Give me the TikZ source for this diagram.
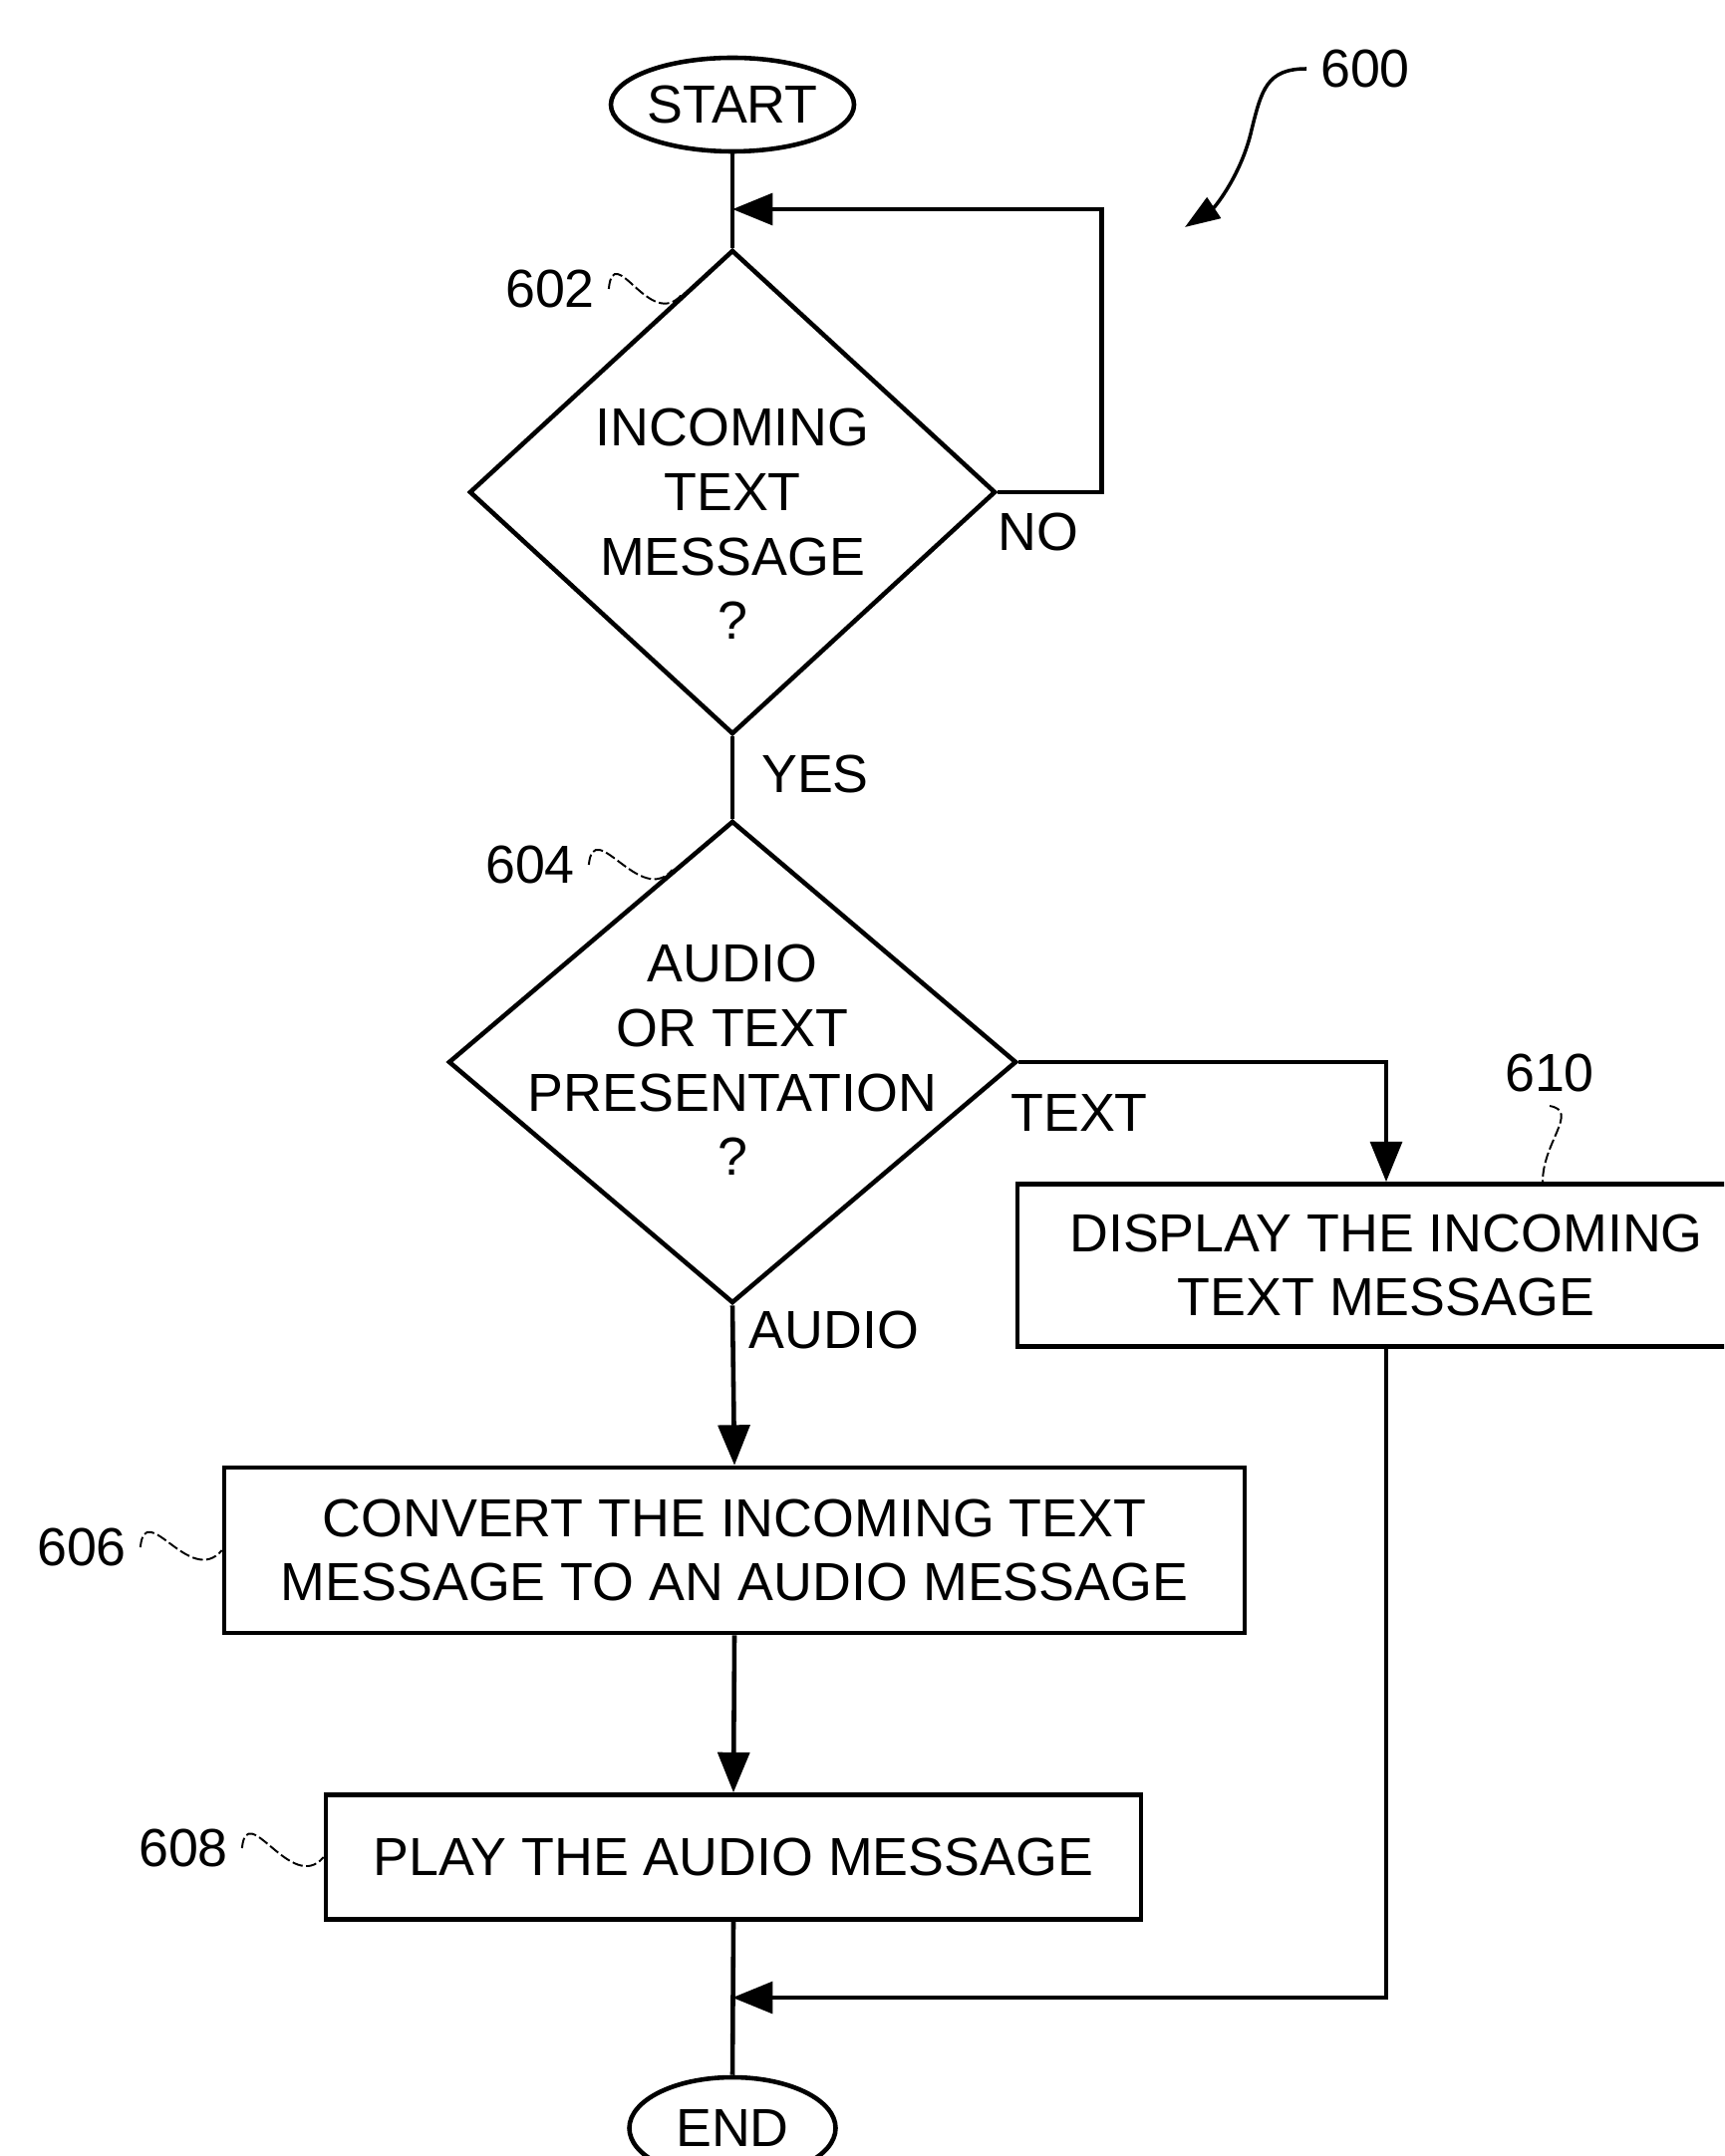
\documentclass[tikz,border=0pt]{standalone}
\usepackage{fontspec}
\setmainfont{Liberation Sans}
\usetikzlibrary{arrows.meta,shapes.geometric,positioning,calc}

\begin{document}
\begin{tikzpicture}[x=0.1mm,y=-0.1mm,
  font=\fontsize{15.3}{18.4}\selectfont,
  line width=1.3pt,
  term/.style={ellipse,draw,inner sep=0pt},
  decision/.style={diamond,draw,inner sep=0pt},
  procbox/.style={rectangle,draw,align=center,inner sep=0pt},
  flow/.style={-{Triangle[length=11.5pt,width=9pt]}},
  squig/.style={line width=0.55pt,dash pattern=on 3pt off 1pt},
  lead/.style={line width=1pt,-{Triangle[length=10pt,width=7pt]}}]
  \clip (0,0) rectangle (1730,2164);

  \node[term,minimum width=2.44cm,minimum height=0.94cm] (start) at (735,105) {START};
  \node[decision,minimum width=5.28cm,minimum height=4.86cm] (q602) at (735,494) {};
  \node[align=center] (q602txt) at (735,526) {INCOMING\\TEXT\\MESSAGE\\?};
  \node[decision,minimum width=5.70cm,minimum height=4.84cm] (q604) at (735,1066) {};
  \node[align=center] (q604txt) at (735,1064) {AUDIO\\OR TEXT\\PRESENTATION\\?};
  \node[procbox,minimum width=7.40cm,minimum height=1.63cm] (b610) at (1391,1270) {DISPLAY THE INCOMING\\TEXT MESSAGE};
  \node[procbox,minimum width=10.24cm,minimum height=1.66cm] (b606) at (737,1556) {CONVERT THE INCOMING TEXT\\MESSAGE TO AN AUDIO MESSAGE};
  \node[procbox,minimum width=8.18cm,minimum height=1.25cm] (b608) at (736,1864) {PLAY THE AUDIO MESSAGE};
  \node[term,minimum width=2.07cm,minimum height=1.02cm] (stop) at (735,2136) {END};

  \coordinate (loopin) at (735,210);
  \coordinate (joinin) at (735,2005);
  \draw (start.south) -- (q602.north);
  \draw[flow] (q602.east) -- ++(104,0) |- (loopin);
  \draw (q602.south) -- (q604.north);
  \draw[flow] (q604.east) -| (b610.north);
  \draw[flow] (q604.south) -- (b606.north);
  \draw[flow] (b606.south) -- (b608.north);
  \draw (b608.south) -- (stop.north);
  \draw[flow] (b610.south) |- (joinin);

  \node (no) at (1042,534) {NO};
  \node (yes) at (818,777) {YES};
  \node (txt) at (1083,1117) {TEXT};
  \node (aud) at (837,1335) {AUDIO};

  \node (r600) at (1370,69) {600};
  \node (r602) at (552,290) {602};
  \node (r604) at (532,868) {604};
  \node (r606) at (82,1553) {606};
  \node (r608) at (184,1855) {608};
  \node (r610) at (1555,1077) {610};

  \coordinate (lead600) at (1189,228);
  \draw[lead] (r600.west) .. controls +(-40,0) and +(10,-40) .. (1256,130)
    .. controls +(-10,45) and +(30,-20) .. (lead600);
  \draw[squig] (r602.east) .. controls +(5,-50) and +(-32,38) .. ($(q602.north)!0.19!(q602.west)$);
  \draw[squig] (r604.east) .. controls +(5,-50) and +(-32,38) .. ($(q604.north)!0.21!(q604.west)$);
  \draw[squig] (r606.east) .. controls +(5,-50) and +(-32,38) .. (b606.west);
  \draw[squig] (r608.east) .. controls +(5,-50) and +(-32,38) .. (b608.west);
  \draw[squig] (r610.south) .. controls +(30,5) and +(0,-40) .. ([xshift=1.57cm]b610.north);
\end{tikzpicture}
\end{document}
